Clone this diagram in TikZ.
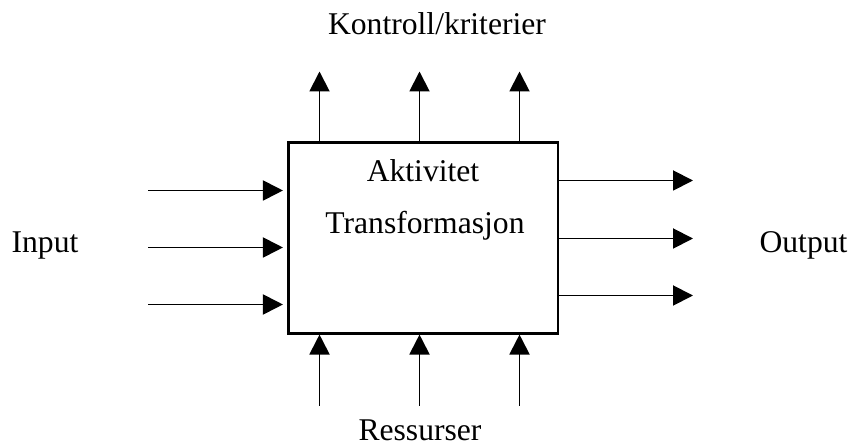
\documentclass[tikz,border=0pt]{standalone}
\usepackage{fontspec}
\setmainfont{Liberation Serif}
\usepackage{tikz}
\usetikzlibrary{positioning}
\usetikzlibrary{arrows.meta}

\begin{document}
\begin{tikzpicture}[arr/.style={-{Triangle[length=0.4cm,width=0.4cm]}, line width=1.1pt},
    lbl/.style={anchor=base, inner sep=0pt, font=\fontsize{18}{22}\selectfont}]
    \useasboundingbox (0,0) rectangle (17.06,8.92);

    % Activity box
    \node[draw, line width=1.2pt, minimum width=5.39cm, minimum height=3.82cm] (box) at (8.465,4.16) {};
    \node[lbl] (akt) at (8.46,5.28) {Aktivitet};
    \node[lbl] (trans) at (8.5,4.24) {Transformasjon};

    % Labels
    \node[lbl] (input) at (0.9,3.86) {Input};
    \node[lbl] (output) at (16.07,3.86) {Output};
    \node[lbl] (kontroll) at (8.74,8.22) {Kontroll/kriterier};
    \node[lbl] (ressurser) at (8.4,0.1) {Ressurser};

    % Free ends of the arrows
    \coordinate (in1) at (2.96,5.11);
    \coordinate (in2) at (2.96,3.97);
    \coordinate (in3) at (2.96,2.83);
    \coordinate (out1) at (13.86,5.31);
    \coordinate (out2) at (13.86,4.15);
    \coordinate (out3) at (13.86,3.01);
    \coordinate (ctl1) at (6.39,7.49);
    \coordinate (ctl2) at (8.39,7.49);
    \coordinate (ctl3) at (10.39,7.49);
    \coordinate (res1) at (6.39,0.8);
    \coordinate (res2) at (8.39,0.8);
    \coordinate (res3) at (10.39,0.8);

    % Input
    \draw[arr, shorten >=0.09cm] (in1) -- (in1 -| box.west);
    \draw[arr, shorten >=0.09cm] (in2) -- (in2 -| box.west);
    \draw[arr, shorten >=0.09cm] (in3) -- (in3 -| box.west);

    % Output
    \draw[arr] (out1 -| box.east) -- (out1);
    \draw[arr] (out2 -| box.east) -- (out2);
    \draw[arr] (out3 -| box.east) -- (out3);

    % Kontroll
    \draw[arr] (ctl1 |- box.north) -- (ctl1);
    \draw[arr] (ctl2 |- box.north) -- (ctl2);
    \draw[arr] (ctl3 |- box.north) -- (ctl3);

    % Ressurser
    \draw[arr] (res1) -- (res1 |- box.south);
    \draw[arr] (res2) -- (res2 |- box.south);
    \draw[arr] (res3) -- (res3 |- box.south);
\end{tikzpicture}
\end{document}
